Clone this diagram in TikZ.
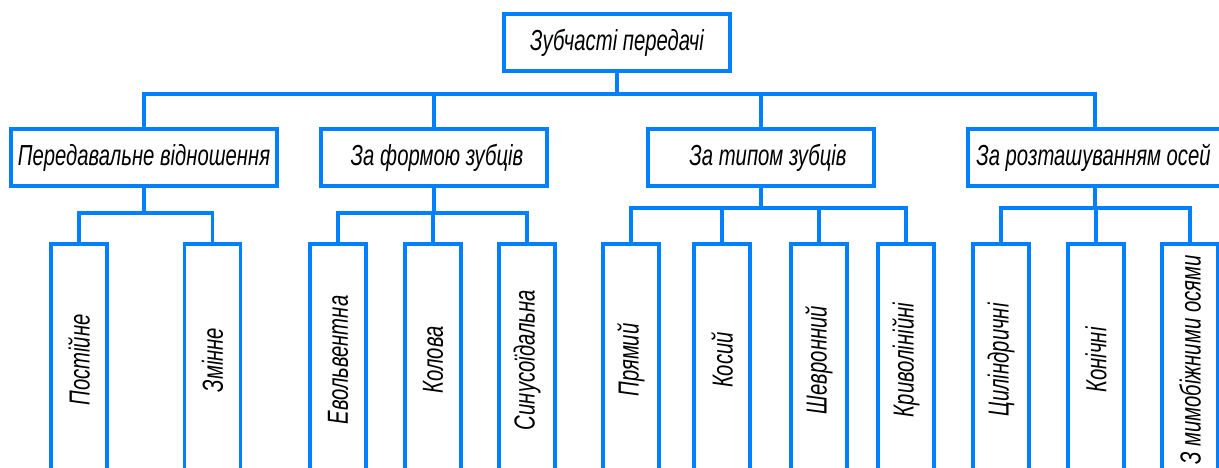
\documentclass[tikz,border=0pt]{standalone}
\usepackage{fontspec}
\newfontfamily\gost{Liberation Sans}[FakeStretch=0.7]
\definecolor{gblue}{RGB}{0,128,255}
\tikzset{
  ln/.style={draw=gblue, line width=3.5pt},
  txt/.style={font=\gost\itshape\fontsize{29}{32}\selectfont},
  topbox/.style={ln, txt, minimum height=57pt, inner sep=0pt},
  leafbox/.style={ln, txt, minimum width=56pt, minimum height=232pt, inner sep=0pt}
}
\begin{document}
\begin{tikzpicture}[x=1pt,y=-1pt]
\clip (0,0) rectangle (1219,468);
% root
\node[topbox, minimum width=226pt] (root) at (617,42.5) {Зубчасті передачі};
% level 2
\node[topbox, minimum width=266pt] (b1) at (144,157.5) {Передавальне відношення};
\node[topbox, minimum width=226pt] (b2) at (434,157.5) {За формою зубців\hspace*{-6pt}};
\node[topbox, minimum width=226pt] (b3) at (761,157.5) {\hspace*{14pt}За типом зубців};
\node[topbox, minimum width=254pt] (b4) at (1095,157.5) {За розташуванням осей\hspace*{3pt}};
% leaves
\node[leafbox] (l1) at (79,360) {\rotatebox{90}{Постійне}};
\node[leafbox] (l2) at (212.5,360) {\rotatebox{90}{Змінне}};
\node[leafbox] (l3) at (338,360) {\rotatebox{90}{Евольвентна}};
\node[leafbox] (l4) at (433,360) {\rotatebox{90}{Колова}};
\node[leafbox] (l5) at (527,360) {\rotatebox{90}{Синусоїдальна}};
\node[leafbox] (l6) at (631,360) {\rotatebox{90}{Прямий}};
\node[leafbox] (l7) at (722,360) {\rotatebox{90}{Косий}};
\node[leafbox] (l8) at (819,360) {\rotatebox{90}{Шевронний}};
\node[leafbox] (l9) at (906,360) {\rotatebox{90}{Криволінійні}};
\node[leafbox] (l10) at (1001,360) {\rotatebox{90}{Циліндричні}};
\node[leafbox] (l11) at (1096,360) {\rotatebox{90}{Конічні}};
\node[leafbox] (l12) at (1190,360) {\rotatebox{90}{З мимобіжними осями}};
% bus coordinates
\coordinate (bus) at (0,94);
\coordinate (ga) at (0,213);
\coordinate (gb) at (0,208);
% root to level 2
\draw[ln] (b1.north) |- (bus -| b4.north) -- (b4.north);
\draw[ln] (root.south) -- (root.south |- bus);
\draw[ln] (b2.north) -- (b2.north |- bus);
\draw[ln] (b3.north) -- (b3.north |- bus);
% group 1
\draw[ln] (l1.north) |- (ga -| l2.north) -- (l2.north);
\draw[ln] (b1.south) -- (b1.south |- ga);
% group 2
\draw[ln] (l3.north) |- (ga -| l5.north) -- (l5.north);
\draw[ln] (b2.south) -- (b2.south |- ga);
\draw[ln] (l4.north) -- (l4.north |- ga);
% group 3
\draw[ln] (l6.north) |- (gb -| l9.north) -- (l9.north);
\draw[ln] (b3.south) -- (b3.south |- gb);
\draw[ln] (l7.north) -- (l7.north |- gb);
\draw[ln] (l8.north) -- (l8.north |- gb);
% group 4
\draw[ln] (l10.north) |- (gb -| l12.north) -- (l12.north);
\draw[ln] (b4.south) -- (b4.south |- gb);
\draw[ln] (l11.north) -- (l11.north |- gb);
\end{tikzpicture}
\end{document}
